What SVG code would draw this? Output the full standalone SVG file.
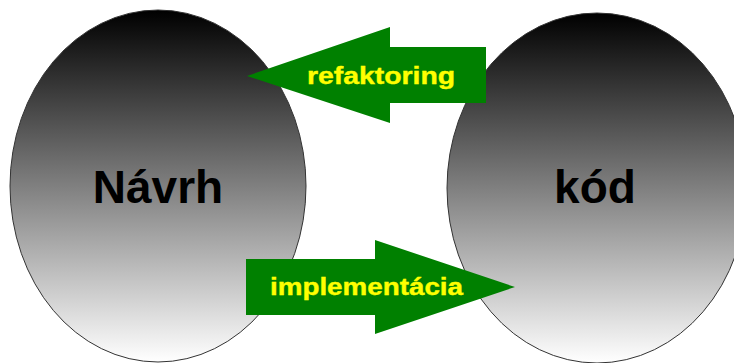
<svg xmlns="http://www.w3.org/2000/svg" width="734" height="363" viewBox="0 0 734 363">
  <defs>
    <linearGradient id="shade" x1="0" y1="0" x2="0" y2="1">
      <stop offset="0" stop-color="#000000"/>
      <stop offset="1" stop-color="#ffffff"/>
    </linearGradient>
  </defs>
  <style>
    .blob { fill: url(#shade); stroke: #333333; stroke-width: 1; }
    .title { font-family: "Liberation Sans", Arial, sans-serif; font-weight: bold; font-size: 46px; fill: #000000; text-anchor: middle; }
    .arrow { fill: #008000; stroke: none; }
    .label { font-family: "Liberation Sans", Arial, sans-serif; font-weight: bold; font-size: 24px; fill: #ffff00; stroke: #ffff00; stroke-width: 0.4; }
  </style>
  <rect width="734" height="363" fill="#ffffff"/>

  <g id="navrh">
    <ellipse class="blob" cx="158" cy="186" rx="148" ry="176"/>
    <text class="title" x="158" y="203">Návrh</text>
  </g>

  <g id="kod">
    <ellipse class="blob" cx="597" cy="188" rx="150" ry="175"/>
    <text class="title" x="595" y="203">kód</text>
  </g>

  <g id="connectors">
    <g id="refaktoring">
      <polygon class="arrow" points="247,76 390,27 390,47 486,47 486,103 390,103 390,123"/>
      <text class="label" x="307" y="84" textLength="148" lengthAdjust="spacingAndGlyphs">refaktoring</text>
    </g>
    <g id="implementacia">
      <polygon class="arrow" points="246,259 375,259 375,240 515,287 375,334 375,315 246,315"/>
      <text class="label" x="270" y="295" textLength="193" lengthAdjust="spacingAndGlyphs">implementácia</text>
    </g>
  </g>
</svg>
